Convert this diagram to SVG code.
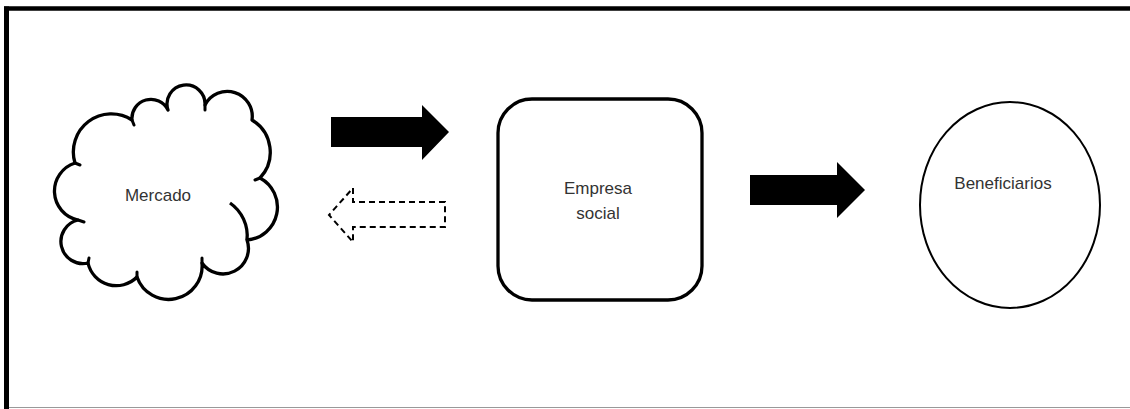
<svg xmlns="http://www.w3.org/2000/svg" width="1130" height="409" viewBox="0 0 1130 409">
<style>
.lbl{font-family:"Liberation Sans",Arial,sans-serif;font-size:17px;fill:#333;text-anchor:middle}
.shape{fill:#fff;stroke:#000;stroke-linejoin:round}
</style>
<rect width="1130" height="409" fill="#fff"/>
<g id="frame">
<line x1="4" y1="8.5" x2="1130" y2="8.5" stroke="#000" stroke-width="4.5"/>
<line x1="6.5" y1="6.5" x2="6.5" y2="409" stroke="#000" stroke-width="5"/>
<line x1="9" y1="407.5" x2="1130" y2="407.5" stroke="#999" stroke-width="1"/>
</g>
<g id="mercado">
<path class="shape" stroke-width="3.3" d="M78,220 A29.5,29.5 0 0 1 75,163 A38,38 0 0 1 132,120 A19,19 0 0 1 168,110 A19,19 0 1 1 205,105 A25,25 0 0 1 252,120 A37.6,37.6 0 0 1 260,178 A33,33 0 0 1 247,240 A25.5,25.5 0 0 1 202,263 A33.5,33.5 0 0 1 137,277 A29,29 0 0 1 88,263 A22,22 0 0 1 78,220 Z"/>
<path fill="none" stroke="#000" stroke-width="3.3" d="M230,203 A40,40 0 0 1 247,240"/>
<path fill="none" stroke="#000" stroke-width="3" stroke-linecap="round" d="M78,220 L84,222 M75,163 L80,165 M132,120 L134,125 M205,105 L205,110 M260,178 L255,180 M202,263 L202,258 M137,277 L137,272 M88,263 L89,258"/>
<text class="lbl" x="158" y="201">Mercado</text>
</g>
<g id="empresa">
<rect class="shape" x="498" y="99" width="204" height="201" rx="34" ry="34" stroke-width="3.3"/>
<text class="lbl" x="598" y="194">Empresa</text>
<text class="lbl" x="598" y="219">social</text>
</g>
<g id="beneficiarios">
<ellipse class="shape" cx="1010" cy="205" rx="90" ry="103" stroke-width="2"/>
<text class="lbl" x="1003" y="189">Beneficiarios</text>
</g>
<g id="connectors">
<polygon fill="#000" points="331,117 422,117 422,105 449,132 422,160 422,147 331,147"/>
<polygon fill="none" stroke="#000" stroke-width="2" stroke-dasharray="6,4" points="445,202 353,202 353,188 329,215 353,242 353,227 445,227"/>
<polygon fill="#000" points="750,175 837,175 837,162 865,190 837,218 837,205 750,205"/>
</g>
</svg>
